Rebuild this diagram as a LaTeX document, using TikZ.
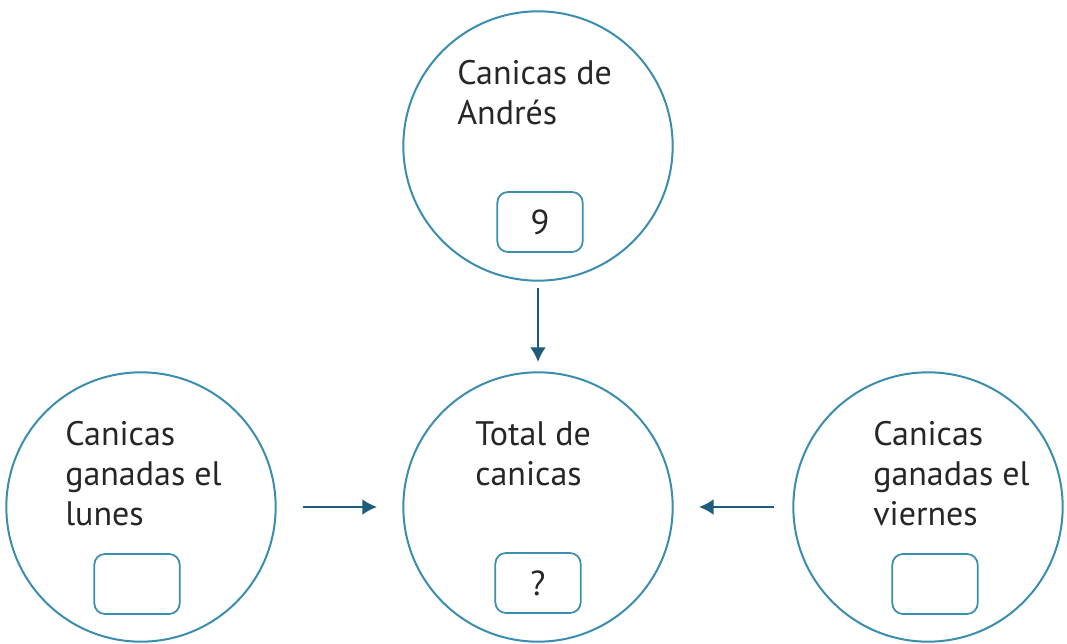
\documentclass[tikz,border=0pt]{standalone}
\usepackage{fontspec}
\usetikzlibrary{arrows.meta}
\setmainfont{PT Sans}
\definecolor{ringblue}{HTML}{3A8DAE}
\definecolor{arrowblue}{HTML}{1D5C7A}
\definecolor{inkgray}{HTML}{262626}

\begin{document}
\begin{tikzpicture}
    [x=0.75pt,y=0.75pt
    ,ring/.style={circle,draw=ringblue,line width=1.5pt,minimum size=202pt,inner sep=0pt}
    ,slot/.style={draw=ringblue,line width=1.3pt,rounded corners=8pt,minimum width=64pt,minimum height=45pt,inner sep=0pt,font=\fontsize{26}{26}\selectfont,text=inkgray}
    ,lbl/.style={align=left,anchor=north west,inner sep=0pt,font=\fontsize{25.5}{30}\selectfont,text=inkgray}
    ,flow/.style={->,draw=arrowblue,line width=1.7pt}
    ,>={Latex[length=11pt,width=12pt]}
    ]
    \useasboundingbox (0,0) rectangle (1067,643);

    \node[ring] (andres) at (538,497) {};
    \node[ring,below of=andres,node distance=270.75pt] (total) {};
    \node[ring,left of=total,node distance=297.75pt] (lunes) {};
    \node[ring,right of=total,node distance=292.5pt] (viernes) {};

    \node[lbl] (tandres) at ([shift={(-81,86)}]andres.center) {Canicas de\\Andrés};
    \node[lbl] (ttotal) at ([shift={(-63,86)}]total.center) {Total de\\canicas};
    \node[lbl] (tlunes) at ([shift={(-76,86)}]lunes.center) {Canicas\\ganadas el\\lunes};
    \node[lbl] (tviernes) at ([shift={(-55,86)}]viernes.center) {Canicas\\ganadas el\\viernes};

    \node[slot] (sandres) at ([shift={(2,-76)}]andres.center) {9};
    \node[slot] (stotal) at ([shift={(0,-76)}]total.center) {?};
    \node[slot] (slunes) at ([shift={(-4,-77)}]lunes.center) {};
    \node[slot] (sviernes) at ([shift={(7,-77)}]viernes.center) {};

    \draw[flow,shorten <=5pt,shorten >=7pt] (andres) -- (total);
    \draw[flow,shorten <=19.5pt,shorten >=19pt] (lunes) -- (total);
    \draw[flow,shorten <=14pt,shorten >=19pt] (viernes) -- (total);

  \end{tikzpicture}
\end{document}
